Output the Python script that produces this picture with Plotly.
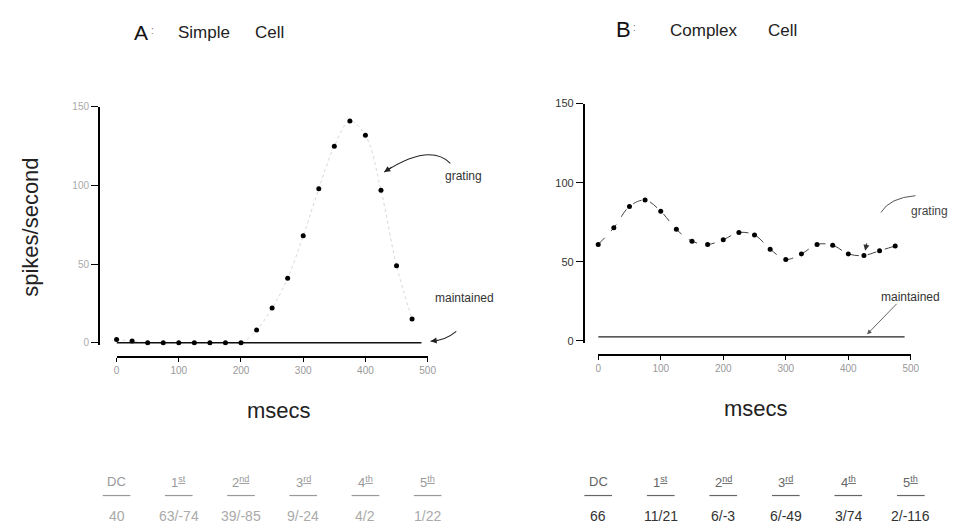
import plotly.graph_objects as go

W, H = 963, 529

# Post-stimulus response, 25 ms bins (spikes/second)
times_ms = [0, 25, 50, 75, 100, 125, 150, 175, 200, 225,
            250, 275, 300, 325, 350, 375, 400, 425, 450, 475]
simple_grating = [2, 1, 0, 0, 0, 0, 0, 0, 0, 8,
                  22, 41, 68, 98, 125, 141, 132, 97, 49, 15]
complex_grating = [61, 71.5, 85, 89, 82, 70.5, 63, 61, 64, 68.5,
                   67, 58, 51.5, 55, 61, 60.5, 55, 54, 57, 60]

# Maintained (spontaneous) discharge
maintained_ms = [0, 490]
simple_maintained = [0, 0]
complex_maintained = [2.5, 2.5]

# Axis ticks
x_ticks = [0, 100, 200, 300, 400, 500]
y_ticks = [0, 50, 100, 150]

# Fourier components of the response (amplitude / phase)
harmonic_labels = ["DC", "1<sup><u>st</u></sup>", "2<sup><u>nd</u></sup>",
                   "3<sup><u>rd</u></sup>", "4<sup><u>th</u></sup>", "5<sup><u>th</u></sup>"]
simple_harmonics = ["40", "63/-74", "39/-85", "9/-24", "4/2", "1/22"]
complex_harmonics = ["66", "11/21", "6/-3", "6/-49", "3/74", "2/-116"]

FONT = "Liberation Sans, Arial, sans-serif"


def px(x):
    return x / W


def py(y):
    return 1 - y / H


X_DOMAIN_A = [px(115), px(430)]
X_DOMAIN_B = [px(602.7), px(919.3)]
X_RANGE = [0, 500]

fig = go.Figure()

# ---- A: simple cell ----
fig.add_trace(go.Scatter(
    x=maintained_ms, y=simple_maintained, mode="lines",
    line=dict(color="#111", width=1.5), xaxis="x", yaxis="y",
    hoverinfo="skip", showlegend=False))
fig.add_trace(go.Scatter(
    x=times_ms, y=simple_grating, mode="lines+markers",
    line=dict(color="rgba(0,0,0,0.16)", width=1, dash="dot", shape="spline"),
    marker=dict(color="black", size=5), cliponaxis=False,
    xaxis="x", yaxis="y", showlegend=False))

# ---- B: complex cell ----
fig.add_trace(go.Scatter(
    x=maintained_ms, y=complex_maintained, mode="lines",
    line=dict(color="#222", width=1.2), xaxis="x2", yaxis="y2",
    hoverinfo="skip", showlegend=False))
fig.add_trace(go.Scatter(
    x=times_ms, y=complex_grating, mode="lines+markers",
    line=dict(color="#444", width=1, dash="dash", shape="spline"),
    marker=dict(color="black", size=5), cliponaxis=False,
    xaxis="x2", yaxis="y2", showlegend=False))

axis_common = dict(showline=True, linecolor="black", showgrid=False,
                   zeroline=False, ticks="outside", tickcolor="black")

layout_axes = dict(
    xaxis=dict(domain=X_DOMAIN_A, range=X_RANGE, anchor="free",
               position=py(357), tickvals=x_ticks, ticklen=4, linewidth=1.8,
               tickfont=dict(size=10, color="#999", family=FONT), **axis_common),
    yaxis=dict(domain=[py(344.9), py(102.7)], range=[-1.5, 150], anchor="free",
               position=px(97), tickvals=y_ticks, ticklen=7, linewidth=1.5,
               tickfont=dict(size=10, color="#aaa", family=FONT), **axis_common),
    xaxis2=dict(domain=X_DOMAIN_B, range=X_RANGE, anchor="free",
                position=py(355), tickvals=x_ticks, ticklen=4, linewidth=1.8,
                tickfont=dict(size=10, color="#999", family=FONT), **axis_common),
    yaxis2=dict(domain=[py(343.1), py(99.3)], range=[-1.5, 150], anchor="free",
                position=px(588), tickvals=y_ticks, ticklen=7, linewidth=1.5,
                tickfont=dict(size=11, color="#333", family=FONT), **axis_common),
)

annotations = []
shapes = []


def text(x, y, s, size, color="#111", **kw):
    annotations.append(dict(x=px(x), y=py(y), xref="paper", yref="paper",
                            xanchor="center", yanchor="middle",
                            text=s, showarrow=False,
                            font=dict(size=size, color=color, family=FONT), **kw))


# Panel titles
text(140, 27, "A", 21)
text(151, 25, ":", 10, "#777")
text(204, 27, "Simple", 17, "#222")
text(270, 27, "Cell", 17, "#222")
text(628, 24, "B", 22)
text(639, 22, ":", 10, "#777")
text(710, 25, "Complex", 17, "#222")
text(789, 25, "Cell", 17, "#222")

# Axis titles
text(28, 225, "spikes/second", 22, "#222", textangle=-90)
text(279, 411, "msecs", 22, "#222")
text(762, 409, "msecs", 22, "#222")

# Curve labels
text(466, 173, "grating", 12, "#333")
text(467, 297, "maintained", 12, "#333")
text(938, 209, "grating", 12, "#444")
text(919, 296, "maintained", 12, "#333")


def curve(p0, c, p1, color="#222", width=1.1):
    shapes.append(dict(type="path", xref="paper", yref="paper",
                       path=f"M {px(p0[0])},{py(p0[1])} Q {px(c[0])},{py(c[1])} {px(p1[0])},{py(p1[1])}",
                       line=dict(color=color, width=width)))


def arrowhead(tip, tail_dx, tail_dy, color="#222"):
    annotations.append(dict(x=px(tip[0]), y=py(tip[1]), xref="paper", yref="paper",
                            ax=tail_dx, ay=tail_dy, text="", showarrow=True,
                            arrowhead=2, arrowsize=1.1, arrowwidth=1.1,
                            arrowcolor=color))


# A: grating and maintained pointers
curve((453, 160), (432, 139), (386, 169))
arrowhead((386, 169), 9, -6)
curve((459, 331), (447, 341), (433, 341))
arrowhead((433, 341), 9, -1)

# B: grating and maintained pointers
curve((889, 210), (898, 195), (924, 193), color="#555", width=1)
arrowhead((873, 249), 2, -9, color="#333")
annotations.append(dict(x=px(875), y=py(334), xref="paper", yref="paper",
                        ax=31, ay=-32, text="", showarrow=True, arrowhead=2,
                        arrowsize=1, arrowwidth=0.9, arrowcolor="#555"))

# Harmonic tables under each panel, columns aligned with the time ticks
UNDERLINE_HALF = px(14)
for dom, labels_color, vals_color, vals in ((X_DOMAIN_A, "#999", "#aaa", simple_harmonics),
                                            (X_DOMAIN_B, "#666", "#333", complex_harmonics)):
    for xt, lab, val in zip(x_ticks, harmonic_labels, vals):
        xc = dom[0] + (xt - X_RANGE[0]) / (X_RANGE[1] - X_RANGE[0]) * (dom[1] - dom[0])
        annotations.append(dict(x=xc, y=py(484), xref="paper", yref="paper",
                                xanchor="center", yanchor="middle",
                                text=lab, showarrow=False,
                                font=dict(size=13, color=labels_color, family=FONT)))
        annotations.append(dict(x=xc, y=py(519), xref="paper", yref="paper",
                                xanchor="center", yanchor="middle",
                                text=val, showarrow=False,
                                font=dict(size=14, color=vals_color, family=FONT)))
        shapes.append(dict(type="line", xref="paper", yref="paper",
                           x0=xc - UNDERLINE_HALF, x1=xc + UNDERLINE_HALF,
                           y0=py(498), y1=py(498),
                           line=dict(color=labels_color, width=1.2)))

fig.update_layout(
    width=W, height=H, margin=dict(l=0, r=0, t=0, b=0),
    paper_bgcolor="white", plot_bgcolor="white",
    annotations=annotations, shapes=shapes,
    font=dict(family=FONT), **layout_axes)

fig.write_html("out.html")
